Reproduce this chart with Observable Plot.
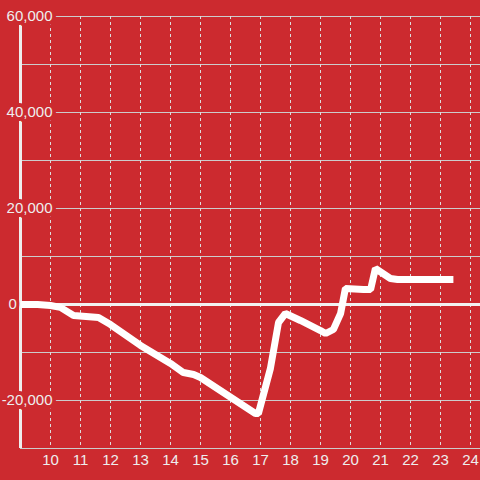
<!DOCTYPE html>
<html>
<head>
<meta charset="utf-8">
<script src="https://cdn.jsdelivr.net/npm/d3@7"></script>
<script src="https://cdn.jsdelivr.net/npm/@observablehq/plot@0.6"></script>
<style>
  html, body { margin: 0; padding: 0; background: #cc2a2f; }
  #chart { width: 480px; height: 480px; }
</style>
</head>
<body>
<div id="chart"></div>
<script>
// Data (hour of day, cumulative value)
const hours  = [9.0, 9.57, 10.0, 10.33, 10.77, 11.6, 12.0, 13.0, 14.0, 14.43, 14.77, 15.0, 16.83, 16.93, 17.33, 17.6, 17.83, 18.33, 19.0, 19.17, 19.43, 19.67, 19.83, 20.43, 20.67, 20.83, 21.33, 21.57, 23.43];
const values = [0, 0, -200, -600, -2300, -2700, -4170, -8540, -12290, -14170, -14580, -15210, -22710, -22710, -13330, -3750, -1875, -3330, -5420, -6040, -5210, -1875, 3330, 3125, 3125, 7500, 5420, 5210, 5210];

const xTicks = [10, 11, 12, 13, 14, 15, 16, 17, 18, 19, 20, 21, 22, 23, 24];
const yGrid = [-30000, -20000, -10000, 0, 10000, 20000, 30000, 40000, 50000, 60000];
const yLabelValues = [-20000, 20000, 40000, 60000];
const yLabelTexts = ["-20,000", "20,000", "40,000", "60,000"];
const zeroLabel = ["0"];

const data = hours.map((h, i) => ({hour: h, value: values[i]}));
const yLabels = yLabelValues.map((v, i) => ({value: v, label: yLabelTexts[i]}));

const bg = "#cc2a2f";
const ink = "#eeeeee";

const chart = Plot.plot({
  width: 480,
  height: 480,
  marginLeft: 20,
  marginRight: 0,
  marginTop: 16,
  marginBottom: 32,
  style: {background: bg, fontFamily: "'Liberation Sans', Arial, sans-serif", fontSize: "15px", color: ink},
  x: {domain: [9, 9 + 460 / 30], axis: null},
  y: {domain: [-30000, 60000], axis: null},
  marks: [
    Plot.ruleY(yGrid, {stroke: "#cccccc", strokeWidth: 1}),
    Plot.ruleX(xTicks, {stroke: "#dddddd", strokeWidth: 1, strokeDasharray: "3,3"}),
    Plot.ruleX([9], {stroke: ink, strokeWidth: 3}),
    Plot.ruleY([0], {stroke: "#f2f2f2", strokeWidth: 3}),
    Plot.line(data, {x: "hour", y: "value", stroke: "white", strokeWidth: 7, strokeLinejoin: "miter", strokeLinecap: "butt"}),
    Plot.axisX(xTicks, {tickSize: 0, tickPadding: 6, fontSize: 15, color: ink, label: null, tickFormat: d => String(d)}),
    Plot.text(yLabels, {y: "value", text: "label", frameAnchor: "left", dx: 32, textAnchor: "end", fill: ink, stroke: bg, strokeWidth: 8, paintOrder: "stroke", fontSize: 15}),
    Plot.text(zeroLabel, {y: () => 0, text: d => d, frameAnchor: "left", dx: -12, textAnchor: "start", fill: ink, stroke: bg, strokeWidth: 6, paintOrder: "stroke", fontSize: 15})
  ]
});
document.getElementById("chart").appendChild(chart);
</script>
</body>
</html>
